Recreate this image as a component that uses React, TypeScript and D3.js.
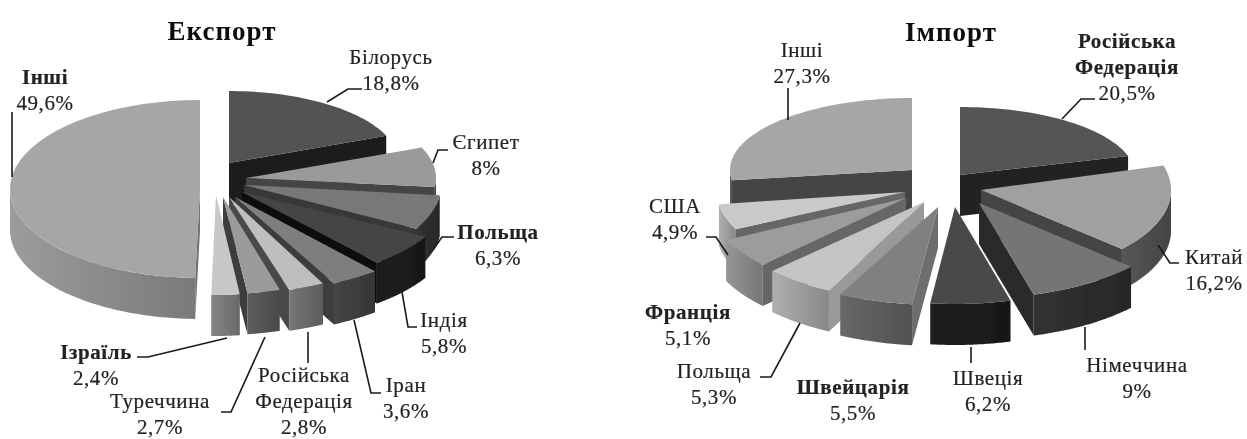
import * as d3 from "d3"

const WIDTH = 1247
const HEIGHT = 439

// Дані
const exportCategories = ["Білорусь", "Єгипет", "Польща", "Індія", "Іран", "Російська Федерація", "Туреччина", "Ізраїль", "Інші"]
const exportValues = [18.8, 8, 6.3, 5.8, 3.6, 2.8, 2.7, 2.4, 49.6]
const exportValueLabels = ["18,8%", "8%", "6,3%", "5,8%", "3,6%", "2,8%", "2,7%", "2,4%", "49,6%"]

const importCategories = ["Російська Федерація", "Китай", "Німеччина", "Швеція", "Швейцарія", "Польща", "Франція", "США", "Інші"]
const importValues = [20.5, 16.2, 9, 6.2, 5.5, 5.3, 5.1, 4.9, 27.3]
const importValueLabels = ["20,5%", "16,2%", "9%", "6,2%", "5,5%", "5,3%", "5,1%", "4,9%", "27,3%"]

// Вигляд секторів: центр, радіуси еліпса і кольори (верх, бік, зріз)
type SliceStyle = { cx: number; cy: number; rx: number; ry: number; top: string; wall: string; face: string }
const s = (cx: number, cy: number, rx: number, ry: number, top: string, wall: string, face: string): SliceStyle =>
  ({ cx, cy, rx, ry, top, wall, face })

const exportStyles = [
  s(229, 163, 170, 72, "#525252", "#222222", "#1f1f1f"),
  s(246, 178, 190, 80, "#9a9a9a", "#3a3a3a", "#444444"),
  s(244, 185, 197, 90, "#787878", "#2e2e2e", "#383838"),
  s(242, 192, 210, 92, "#454545", "#1c1c1c", "#111111"),
  s(235, 197, 218, 97, "#7e7e7e", "#3f3f3f", "#3d3d3d"),
  s(229, 197, 207, 97, "#bebebe", "#6c6c6c", "#484848"),
  s(223, 197, 195, 97, "#9b9b9b", "#565656", "#3d3d3d"),
  s(216, 195, 190, 100, "#c8c8c8", "#7b7b7b", "#555555"),
  s(200, 189, 190, 89, "#a6a6a6", "#8f8f8f", "#707070"),
]
const importStyles = [
  s(960, 175, 175, 68, "#555555", "#232323", "#232323"),
  s(981, 190, 190, 88, "#a0a0a0", "#505050", "#454545"),
  s(979, 203, 205, 95, "#757575", "#2e2e2e", "#2b2b2b"),
  s(955, 207, 208, 97, "#484848", "#1c1c1c", "#1c1c1c"),
  s(938, 207, 218, 98, "#808080", "#5f5f5f", "#6e6e6e"),
  s(924, 202, 212, 99, "#c4c4c4", "#a0a0a0", "#999999"),
  s(906, 198, 200, 96, "#9c9c9c", "#8a8a8a", "#666666"),
  s(905, 192, 188, 85, "#c9c9c9", "#a0a0a0", "#666666"),
  s(912, 170, 182, 72, "#a6a6a6", "#555555", "#444444"),
]

// Підписи: центр по x і базова лінія першого рядка
type LabelPos = { x: number; y: number; bold?: boolean }
const exportLabelPos: LabelPos[] = [
  { x: 391, y: 64 },
  { x: 486, y: 149 },
  { x: 498, y: 239, bold: true },
  { x: 444, y: 327 },
  { x: 406, y: 392 },
  { x: 304, y: 382 },
  { x: 160, y: 408 },
  { x: 96, y: 359, bold: true },
  { x: 45, y: 84, bold: true },
]
const importLabelPos: LabelPos[] = [
  { x: 1127, y: 48, bold: true },
  { x: 1214, y: 264 },
  { x: 1137, y: 372 },
  { x: 988, y: 385 },
  { x: 853, y: 394, bold: true },
  { x: 714, y: 378 },
  { x: 688, y: 319, bold: true },
  { x: 675, y: 213 },
  { x: 802, y: 57 },
]

const exportLeaders: [number, number][][] = [
  [[327, 102], [348, 89], [362, 89]],
  [[433, 163], [438, 150], [448, 150]],
  [[433, 250], [442, 237], [454, 237]],
  [[402, 292], [408, 327], [417, 327]],
  [[354, 320], [371, 393], [381, 393]],
  [[308, 332], [308, 363]],
  [[265, 337], [231, 412], [221, 412]],
  [[227, 338], [148, 357], [137, 357]],
  [[12, 177], [12, 112]],
]
const importLeaders: [number, number][][] = [
  [[1062, 119], [1081, 99], [1095, 99]],
  [[1158, 245], [1170, 263], [1179, 263]],
  [[1085, 327], [1085, 350]],
  [[971, 347], [971, 363]],
  [[800, 323], [771, 377], [760, 377]],
  [[728, 255], [716, 237], [706, 237]],
  [[788, 120], [788, 88]],
]

const DEPTH = 41
const FONT = "'Liberation Serif', serif"
const LINE = 26

function Pie3D({ id, values, styles }: { id: string; values: number[]; styles: SliceStyle[] }) {
  const arcs = d3.pie<number>().sort(null).value((d) => d)(values)
  const line = d3.line<[number, number]>()

  const items = arcs
    .map((a, i) => ({ a, st: styles[i], i }))
    .sort((p, q) => d3.descending(Math.cos((p.a.startAngle + p.a.endAngle) / 2), Math.cos((q.a.startAngle + q.a.endAngle) / 2)))

  return (
    <g>
      <defs>
        {items.map(({ st, i }) => (
          <linearGradient key={i} id={`${id}-wall-${i}`} x1="0" x2="1" y1="0" y2="0">
            <stop offset="0" stopColor={d3.color(st.wall)!.brighter(0.25).formatHex()} />
            <stop offset="1" stopColor={d3.color(st.wall)!.darker(0.45).formatHex()} />
          </linearGradient>
        ))}
      </defs>
      {items.map(({ a, st, i }) => {
        const pt = (t: number, dy = 0): [number, number] => [
          st.cx + st.rx * Math.sin(t),
          st.cy - st.ry * Math.cos(t) + dy,
        ]
        const apex: [number, number] = [st.cx, st.cy]
        const apexLow: [number, number] = [st.cx, st.cy + DEPTH]
        const sample = (t0: number, t1: number) =>
          d3.range(0, 41).map((k) => t0 + ((t1 - t0) * k) / 40)

        const topPath = line([apex, ...sample(a.startAngle, a.endAngle).map((t) => pt(t))]) + "Z"

        // Зрізи: кінцевий видно справа, початковий зліва
        const showEnd = Math.sin(a.endAngle) > 0.01
        const showStart = Math.sin(a.startAngle) < -0.01
        const facePath = (t: number) => line([apex, pt(t), pt(t, DEPTH), apexLow]) + "Z"

        // Зовнішня стінка лише на передній половині еліпса
        const w0 = Math.max(a.startAngle, Math.PI / 2)
        const w1 = Math.min(a.endAngle, (3 * Math.PI) / 2)
        const arcPts = w1 > w0 ? sample(w0, w1) : []
        const wallPath = arcPts.length
          ? line([...arcPts.map((t) => pt(t)), ...arcPts.slice().reverse().map((t) => pt(t, DEPTH))]) + "Z"
          : null

        return (
          <g key={i}>
            {showEnd && <path d={facePath(a.endAngle)} fill={st.face} />}
            {showStart && <path d={facePath(a.startAngle)} fill={st.face} />}
            {wallPath && <path d={wallPath} fill={`url(#${id}-wall-${i})`} />}
            <path d={topPath} fill={st.top} />
          </g>
        )
      })}
    </g>
  )
}

function Labels({ categories, valueLabels, pos }: { categories: string[]; valueLabels: string[]; pos: LabelPos[] }) {
  return (
    <g fontFamily={FONT} fontSize={21} textAnchor="middle" fill="#222" stroke="#222" strokeWidth={0.2}>
      {categories.map((c, i) => {
        const words = c === "Російська Федерація" ? c.split(" ") : [c]
        const p = pos[i]
        return (
          <text key={c} x={p.x} y={p.y} fontWeight={p.bold ? "bold" : "normal"} letterSpacing={0.6}>
            {words.map((w, k) => (
              <tspan key={w} x={p.x} y={p.y + k * LINE}>{w}</tspan>
            ))}
            <tspan x={p.x} y={p.y + words.length * LINE} fontWeight="normal">{valueLabels[i]}</tspan>
          </text>
        )
      })}
    </g>
  )
}

function Leaders({ lines }: { lines: [number, number][][] }) {
  const line = d3.line<[number, number]>()
  return (
    <g fill="none" stroke="#1a1a1a" strokeWidth={1.6}>
      {lines.map((l, i) => <path key={i} d={line(l)!} />)}
    </g>
  )
}

export default function App() {
  return (
    <svg width={WIDTH} height={HEIGHT} viewBox={`0 0 ${WIDTH} ${HEIGHT}`}
      style={{ position: "absolute", left: 0, top: 0, background: "#fff" }}>
      <defs>
        <filter id="soft" x="0" y="0" width="100%" height="100%">
          <feGaussianBlur stdDeviation="0.7" />
        </filter>
      </defs>
      <g filter="url(#soft)">
        <Pie3D id="exp" values={exportValues} styles={exportStyles} />
        <Pie3D id="imp" values={importValues} styles={importStyles} />
        <Leaders lines={exportLeaders} />
        <Leaders lines={importLeaders} />
        <Labels categories={exportCategories} valueLabels={exportValueLabels} pos={exportLabelPos} />
        <Labels categories={importCategories} valueLabels={importValueLabels} pos={importLabelPos} />
        <text x={222} y={40} textAnchor="middle" fontFamily={FONT} fontWeight="bold" fontSize={27} letterSpacing={1} fill="#111">Експорт</text>
        <text x={951} y={41} textAnchor="middle" fontFamily={FONT} fontWeight="bold" fontSize={27} letterSpacing={1} fill="#111">Імпорт</text>
      </g>
    </svg>
  )
}
